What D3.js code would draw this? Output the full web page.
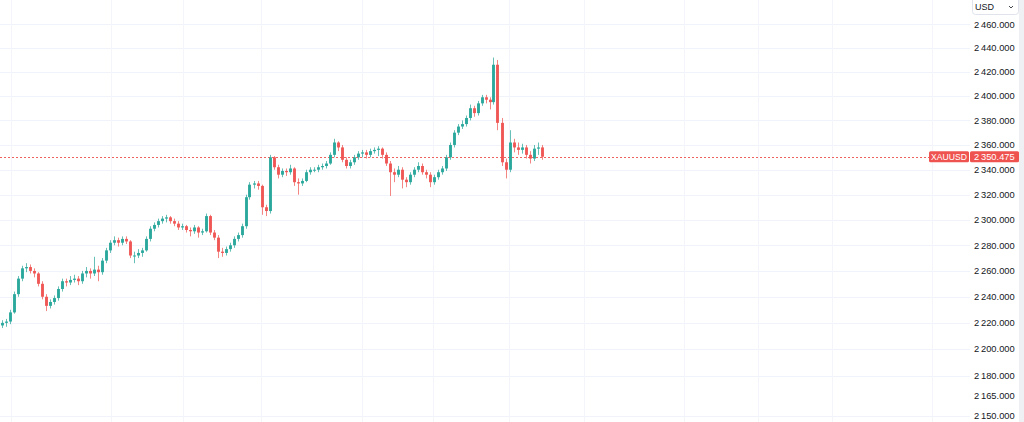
<!DOCTYPE html>
<html><head><meta charset="utf-8">
<script src="https://cdn.jsdelivr.net/npm/d3@7"></script>
<style>html,body{margin:0;padding:0;background:#fff;overflow:hidden}svg{display:block}</style>
</head><body><svg id="c" width="1024" height="422"></svg>
<script>
const opens  = [2218,2220,2221,2228,2242,2254,2262,2263,2260,2258,2250,2240,2233,2236,2239,2246,2252,2251,2253,2254,2252,2258,2260,2258,2261,2259,2268,2276,2282,2284,2282,2285,2283,2272,2272,2274,2276,2285,2293,2296,2299,2301,2302,2299,2297,2294,2295,2292,2291,2294,2290,2291,2303,2290,2286,2275,2274,2277,2280,2285,2288,2295,2318,2328,2329,2327,2310,2307,2350,2342,2336,2339,2338,2341,2330,2329,2331,2338,2340,2340,2342,2343,2345,2352,2362,2358,2348,2343,2346,2350,2353,2354,2352,2355,2356,2357,2352,2345,2338,2336,2340,2332,2330,2336,2340,2343,2338,2336,2330,2334,2338,2341,2350,2360,2370,2375,2377,2382,2390,2386,2394,2399,2397,2395,2426,2378,2346,2340,2362,2358,2356,2358,2352,2349,2357,2358];
const highs  = [2222,2223,2230,2244,2256,2264,2266,2265,2262,2259,2252,2242,2238,2241,2248,2254,2254,2256,2257,2256,2260,2263,2262,2271,2264,2270,2278,2284,2287,2286,2287,2287,2284,2275,2277,2278,2287,2295,2298,2301,2303,2304,2303,2301,2299,2297,2296,2294,2296,2295,2293,2305,2304,2292,2288,2278,2279,2282,2287,2290,2297,2320,2330,2331,2331,2328,2312,2352,2351,2344,2341,2341,2344,2342,2333,2333,2340,2342,2342,2344,2345,2347,2354,2365,2363,2360,2350,2348,2352,2355,2356,2356,2357,2358,2359,2358,2354,2347,2341,2343,2342,2334,2338,2342,2346,2345,2340,2338,2336,2340,2343,2352,2362,2372,2377,2380,2384,2393,2392,2396,2401,2401,2399,2432,2430,2382,2349,2372,2365,2362,2361,2360,2355,2360,2362,2360];
const lows   = [2216,2217,2219,2227,2240,2252,2259,2258,2255,2248,2238,2229,2231,2234,2237,2244,2248,2249,2251,2249,2250,2255,2254,2256,2252,2257,2266,2274,2280,2279,2280,2281,2270,2266,2270,2271,2275,2283,2291,2294,2297,2298,2297,2295,2292,2292,2290,2287,2289,2286,2288,2290,2288,2284,2270,2271,2272,2275,2278,2283,2286,2293,2316,2325,2324,2304,2303,2305,2340,2333,2334,2335,2336,2327,2320,2327,2330,2336,2338,2338,2340,2341,2344,2350,2355,2346,2341,2341,2344,2348,2350,2349,2350,2353,2351,2349,2343,2319,2330,2334,2325,2326,2328,2334,2338,2336,2333,2326,2328,2332,2336,2339,2348,2358,2368,2373,2375,2380,2383,2384,2392,2394,2389,2393,2372,2343,2333,2338,2354,2352,2353,2349,2345,2347,2352,2348];
const closes = [2220,2221,2228,2242,2254,2262,2263,2260,2258,2250,2240,2233,2236,2239,2246,2252,2251,2253,2254,2252,2258,2260,2258,2261,2259,2268,2276,2282,2284,2282,2285,2283,2272,2272,2274,2276,2285,2293,2296,2299,2301,2302,2299,2297,2294,2295,2292,2291,2294,2290,2291,2303,2290,2286,2275,2274,2277,2280,2285,2288,2295,2318,2328,2329,2327,2310,2307,2350,2342,2336,2339,2338,2341,2330,2329,2331,2338,2340,2340,2342,2343,2345,2352,2362,2358,2348,2343,2346,2350,2353,2354,2352,2355,2356,2357,2352,2345,2338,2336,2340,2332,2330,2336,2340,2343,2338,2336,2330,2334,2338,2341,2350,2360,2370,2375,2377,2382,2390,2386,2394,2399,2397,2395,2426,2378,2346,2340,2362,2358,2356,2358,2352,2349,2357,2358,2350.475];
const priceTicks = [2460,2440,2420,2400,2380,2360,2340,2320,2300,2280,2260,2240,2220,2200,2180,2165,2150];
const gridTicks = [2460,2440,2420,2400,2380,2360,2340,2320,2300,2280,2260,2240,2220,2200,2180,2150];
const timeGridIdx = [2.4,27.4,45.4,64.9,90.1,107.9,126.9,145.5,170.5,189,207.5,232.5];
const symbol = "XAUUSD";
const currency = "USD";
const lastPrice = 2350.475;

const W = 1024, H = 422, plotW = 970;
const svg = d3.select("#c");
const x = d3.scaleLinear().domain([-0.375, 242.125]).range([0, plotW]);
const y = d3.scaleLog().domain([2145.6, 2480.6]).range([H, 0]);
const fmt = v => d3.format(",.3f")(v).replace(/,/g, "\u202F");

const g = svg.append("g");
// grid
g.selectAll(".hg").data(gridTicks).enter().append("line")
  .attr("x1", 0).attr("x2", plotW)
  .attr("y1", d => Math.round(y(d)) + 0.5).attr("y2", d => Math.round(y(d)) + 0.5)
  .attr("stroke", "#f0f3fa").attr("stroke-width", 1);
g.selectAll(".vg").data(timeGridIdx).enter().append("line")
  .attr("x1", d => Math.round(x(d)) + 0.5).attr("x2", d => Math.round(x(d)) + 0.5)
  .attr("y1", 0).attr("y2", H)
  .attr("stroke", "#f3f5fa").attr("stroke-width", 1);

// price line
const ly = Math.round(y(lastPrice)) + 0.5;
g.append("line").attr("x1", 0).attr("x2", 929).attr("y1", ly).attr("y2", ly)
  .attr("stroke", "#f0625f").attr("stroke-width", 1).attr("stroke-dasharray", "2,2");

// candles
const data = closes.map((c, i) => ({i, o: opens[i], h: highs[i], l: lows[i], c}));
const col = d => d.c >= d.o ? "#26a69a" : "#ef5350";
const cg = g.append("g");
cg.selectAll(".w").data(data).enter().append("line")
  .attr("x1", d => Math.round(x(d.i)) + 0.5).attr("x2", d => Math.round(x(d.i)) + 0.5)
  .attr("y1", d => y(d.h)).attr("y2", d => y(d.l))
  .attr("stroke", col).attr("stroke-width", 1).attr("opacity", 0.7);
cg.selectAll(".b").data(data).enter().append("rect")
  .attr("x", d => Math.round(x(d.i)) - 1)
  .attr("width", 3)
  .attr("y", d => y(Math.max(d.o, d.c)))
  .attr("height", d => Math.max(1, Math.abs(y(d.o) - y(d.c))))
  .attr("fill", col).attr("opacity", 0.92);

// axis area
const ax = svg.append("g");
ax.append("rect").attr("x", plotW).attr("y", 0).attr("width", W - plotW).attr("height", H).attr("fill", "#fff");
ax.append("rect").attr("x", 1019).attr("y", 0).attr("width", 5).attr("height", H).attr("fill", "#eef0f4");
ax.selectAll(".tl").data(priceTicks).enter().append("text")
  .attr("x", 974).attr("y", d => y(d) + 3.3)
  .attr("font-family", "Arial, 'Liberation Sans', sans-serif").attr("font-size", 9.3)
  .attr("fill", "#131722").text(d => fmt(d));

// USD box
ax.append("rect").attr("x", 972.5).attr("y", -3).attr("width", 46).attr("height", 17.5).attr("rx", 3)
  .attr("fill", "#fff").attr("stroke", "#e0e3eb");
ax.append("text").attr("x", 975).attr("y", 9.5).attr("font-family", "Arial, 'Liberation Sans', sans-serif")
  .attr("font-size", 9).attr("fill", "#131722").text(currency);
ax.append("path").attr("d", "M1009,6 L1011,8 L1013,6").attr("fill", "none").attr("stroke", "#131722").attr("stroke-width", 0.8);

// price labels
const py = y(lastPrice);
svg.append("rect").attr("x", 929).attr("y", py - 5.5).attr("width", 40).attr("height", 11).attr("rx", 1.5).attr("fill", "#ef5350");
svg.append("text").attr("x", 949).attr("y", py + 3.2).attr("text-anchor", "middle")
  .attr("font-family", "Arial, 'Liberation Sans', sans-serif").attr("font-size", 8.6).attr("fill", "#fff").text(symbol);
svg.append("rect").attr("x", 970).attr("y", py - 5.5).attr("width", 49).attr("height", 11).attr("rx", 1.5).attr("fill", "#ef5350");
svg.append("text").attr("x", 974).attr("y", py + 3.3)
  .attr("font-family", "Arial, 'Liberation Sans', sans-serif").attr("font-size", 9.3).attr("fill", "#fff").text(fmt(lastPrice));
</script></body></html>
